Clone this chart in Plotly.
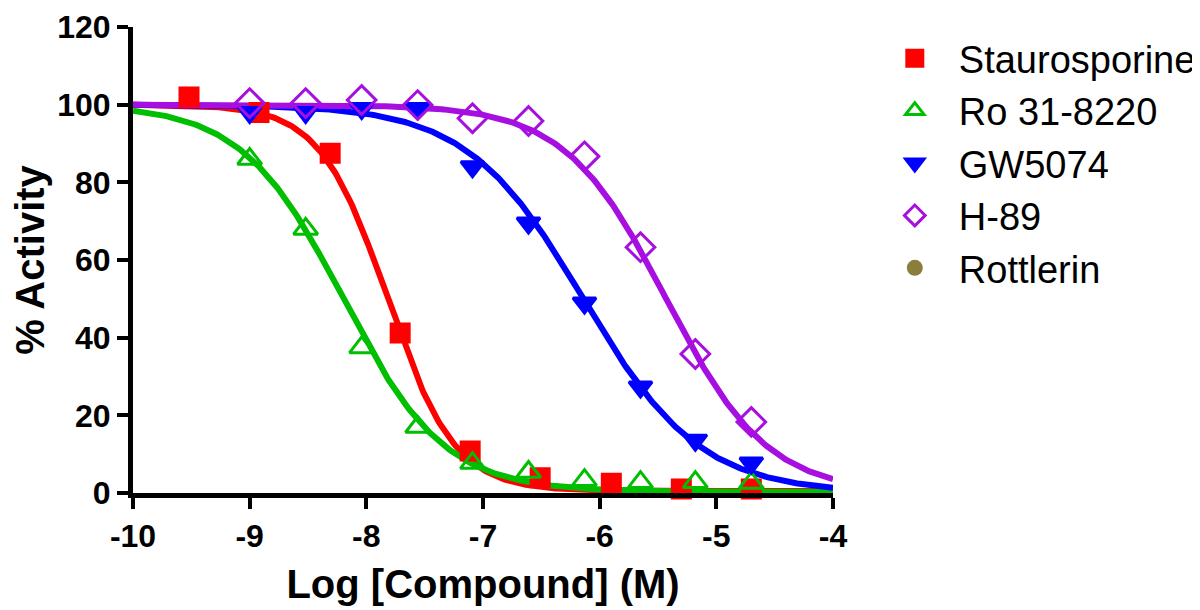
import numpy as np
import plotly.graph_objects as go

# ---- data ----
stauro_logc = [-9.52, -8.92, -8.31, -7.71, -7.11, -6.51, -5.90, -5.30, -4.70]
stauro_act = [102.0, 98.0, 87.5, 41.2, 10.8, 3.9, 2.5, 1.0, 1.0]

ro_logc = [-9.00, -8.52, -8.04, -7.56, -7.09, -6.61, -6.13, -5.65, -5.18, -4.70]
ro_act = [86.0, 68.0, 37.5, 17.0, 7.7, 5.4, 3.3, 2.8, 2.8, 2.6]

gw_logc = [-9.00, -8.52, -8.04, -7.56, -7.09, -6.61, -6.13, -5.65, -5.18, -4.70]
gw_act = [98.0, 98.0, 99.0, 99.0, 84.0, 69.5, 48.9, 27.3, 13.6, 7.7]

h89_logc = [-9.00, -8.52, -8.04, -7.56, -7.09, -6.61, -6.13, -5.65, -5.18, -4.70]
h89_act = [100.4, 100.4, 101.2, 99.9, 96.5, 95.8, 86.7, 63.3, 35.8, 18.3]

# fitted 4-parameter logistic curves: (bottom, top, logIC50, hill slope)
stauro_fit = (0.5, 100.0, -7.82, 1.5)
ro_fit = (0.3, 100.0, -8.20, 1.0)
gw_fit = (0.0, 100.0, -6.14, 0.87)
h89_fit = (0.0, 100.0, -5.43, 1.0)

names = ["Staurosporine", "Ro 31-8220", "GW5074", "H-89", "Rottlerin"]
colors = ["#FF0000", "#00BE00", "#0000FF", "#A60FE0", "#8B7D3B"]
symbols = ["square", "triangle-up-open", "triangle-down", "diamond-open", "circle"]

x_ticks = [-10, -9, -8, -7, -6, -5, -4]
y_ticks = [0, 20, 40, 60, 80, 100, 120]

xfit = np.linspace(-10, -4, 400)


def hill(x, p):
    bottom, top, c, h = p
    return bottom + (top - bottom) / (1 + 10 ** (h * (np.asarray(x) - c)))


fig = go.Figure()

series = [
    (stauro_logc, stauro_act, stauro_fit),
    (ro_logc, ro_act, ro_fit),
    (gw_logc, gw_act, gw_fit),
    (h89_logc, h89_act, h89_fit),
]
sizes = [18, 21, 20, 22]

for i, (xs, ys, p) in enumerate(series):
    fig.add_trace(go.Scatter(
        x=xfit, y=hill(xfit, p), mode="lines",
        line=dict(color=colors[i], width=6),
        showlegend=False, hoverinfo="skip", cliponaxis=False,
    ))

for i, (xs, ys, p) in enumerate(series):
    fig.add_trace(go.Scatter(
        x=xs, y=ys, mode="markers", name=names[i],
        legendgroup=names[i],
        marker=dict(symbol=symbols[i], size=sizes[i], color=colors[i],
                    line=dict(width=3, color=colors[i])),
        cliponaxis=False,
    ))

# Rottlerin: legend entry only
fig.add_trace(go.Scatter(
    x=[None], y=[None], mode="markers", name=names[4], legendgroup=names[4],
    marker=dict(symbol=symbols[4], size=16, color=colors[4]),
))

axis_common = dict(
    showline=True, linecolor="black", linewidth=5,
    ticks="outside", ticklen=11, tickwidth=4, tickcolor="black",
    showgrid=False, zeroline=False, mirror=False,
    tickfont=dict(family="Arial, Liberation Sans", size=32, color="black", weight="bold"),
)

fig.update_layout(
    width=1190, height=600,
    paper_bgcolor="white", plot_bgcolor="white",
    margin=dict(l=125, r=365, t=19, b=115, autoexpand=False),
    xaxis=dict(range=[-10, -4], tickvals=x_ticks, ticktext=[str(v) for v in x_ticks],
               title=dict(text="<b>Log [Compound] (M)</b>", standoff=18,
                          font=dict(family="Arial, Liberation Sans", size=40, color="black")),
               **axis_common),
    yaxis=dict(range=[0, 120], tickvals=y_ticks, ticktext=[str(v) for v in y_ticks],
               title=dict(text="<b>% Activity</b>", standoff=8,
                          font=dict(family="Arial, Liberation Sans", size=40, color="black")),
               **axis_common),
    legend=dict(x=1.054, y=1.0, xanchor="left", yanchor="top",
                font=dict(family="Arial, Liberation Sans", size=38, color="black"),
                tracegroupgap=0, traceorder="grouped", itemsizing="trace",
                itemwidth=78, bgcolor="rgba(0,0,0,0)"),
    showlegend=True,
)

fig.write_html("out.html")
